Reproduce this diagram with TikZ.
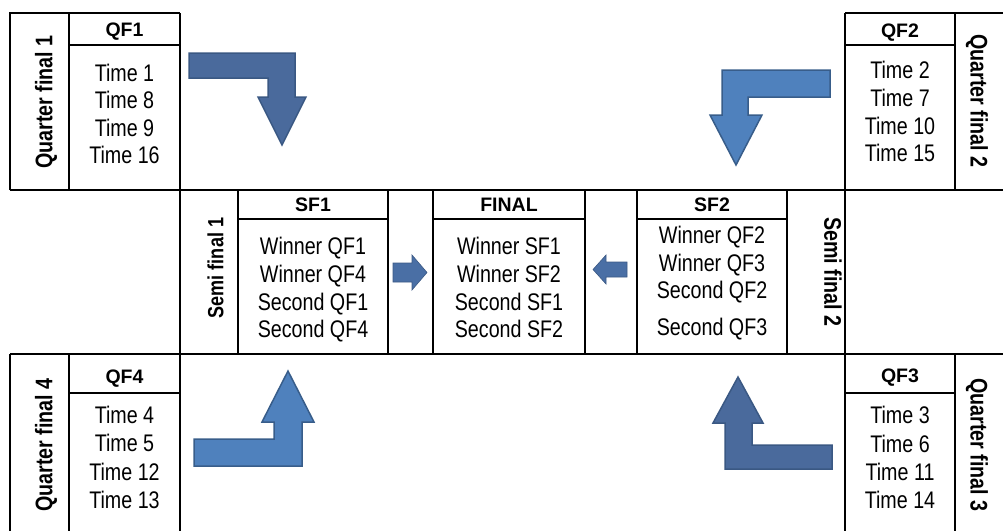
\documentclass[tikz,border=0pt]{standalone}
\usepackage{fontspec}
\setmainfont{Liberation Sans}
\newfontfamily\narrowfont[FakeStretch=0.82]{Liberation Sans}
\definecolor{arrdark}{HTML}{4A6A9C}
\definecolor{arrdarkline}{HTML}{3A5883}
\definecolor{arrlight}{HTML}{4F81BD}
\definecolor{arrlightline}{HTML}{385D8A}
\definecolor{arrsmall}{HTML}{4A6FA5}
\tikzset{
  grid/.style={line width=1.4pt, black},
  txt/.style={font=\narrowfont\fontsize{24}{24}\selectfont, inner sep=0pt, anchor=base},
  hdr/.style={font=\bfseries\fontsize{19.5}{20}\selectfont, inner sep=0pt, anchor=base},
  lbl/.style={font=\narrowfont\bfseries\fontsize{24}{24}\selectfont, inner sep=0pt, anchor=center},
  darkarrow/.style={fill=arrdark, draw=arrdarkline, line width=1.5pt, line join=miter},
  lightarrow/.style={fill=arrlight, draw=arrlightline, line width=1.5pt, line join=miter},
  smallarrow/.style={fill=arrsmall, draw=arrsmall!80!black, line width=0.6pt}
}
\begin{document}
\begin{tikzpicture}[x=1pt, y=-1pt]
\useasboundingbox (0,0) rectangle (1003,531);
% ---------- grid ----------
% QF1
\draw[grid] (10,190) -- (10,13) -- (180,13);
\draw[grid] (69,13) -- (69,190);
\draw[grid] (69,45) -- (180,45);
% QF2
\draw[grid] (845,13) -- (1003,13);
\draw[grid] (955,13) -- (955,190);
\draw[grid] (845,45) -- (955,45);
% full lines
\draw[grid] (180,13) -- (180,531);
\draw[grid] (845,13) -- (845,531);
\draw[grid] (10,190) -- (1003,190);
\draw[grid] (10,354) -- (1003,354);
% middle row
\foreach \xx in {238,388,433,585,637,787} \draw[grid] (\xx,190) -- (\xx,354);
\draw[grid] (238,219) -- (388,219);
\draw[grid] (433,219) -- (585,219);
\draw[grid] (637,219) -- (787,219);
% QF4
\draw[grid] (10,354) -- (10,531);
\draw[grid] (69,354) -- (69,531);
\draw[grid] (69,393) -- (180,393);
% QF3
\draw[grid] (955,354) -- (955,531);
\draw[grid] (845,393) -- (955,393);

% ---------- QF1 ----------
\node[hdr] (qf1) at (124.5,36) {QF1};
\node[txt] (qf1a) at (124.5,81) {Time 1};
\node[txt] (qf1b) at (124.5,108.5) {Time 8};
\node[txt] (qf1c) at (124.5,136) {Time 9};
\node[txt] (qf1d) at (124.5,163.5) {Time 16};
\node[lbl, rotate=90] (lq1) at (46,102) {Quarter final 1};
% ---------- QF2 ----------
\node[hdr] (qf2) at (900,37) {QF2};
\node[txt] (qf2a) at (900,78) {Time 2};
\node[txt] (qf2b) at (900,106) {Time 7};
\node[txt] (qf2c) at (900,134) {Time 10};
\node[txt] (qf2d) at (900,161) {Time 15};
\node[lbl, rotate=-90] (lq2) at (977,101) {Quarter final 2};
% ---------- QF4 ----------
\node[hdr] (qf4) at (124.5,383) {QF4};
\node[txt] (qf4a) at (124.5,423) {Time 4};
\node[txt] (qf4b) at (124.5,451) {Time 5};
\node[txt] (qf4c) at (124.5,480) {Time 12};
\node[txt] (qf4d) at (124.5,508) {Time 13};
\node[lbl, rotate=90] (lq4) at (46,445) {Quarter final 4};
% ---------- QF3 ----------
\node[hdr] (qf3) at (900,382) {QF3};
\node[txt] (qf3a) at (900,423) {Time 3};
\node[txt] (qf3b) at (900,452) {Time 6};
\node[txt] (qf3c) at (900,480) {Time 11};
\node[txt] (qf3d) at (900,508) {Time 14};
\node[lbl, rotate=-90] (lq3) at (977,445) {Quarter final 3};
% ---------- SF1 ----------
\node[hdr] (sf1) at (313,211) {SF1};
\node[txt] (sf1a) at (313,254) {Winner QF1};
\node[txt] (sf1b) at (313,282) {Winner QF4};
\node[txt] (sf1c) at (313,310) {Second QF1};
\node[txt] (sf1d) at (313,337) {Second QF4};
\node[lbl, rotate=90, font=\narrowfont\bfseries\fontsize{22}{22}\selectfont] (ls1) at (215.5,268) {Semi final 1};
% ---------- FINAL ----------
\node[hdr] (fin) at (509,211) {FINAL};
\node[txt] (fina) at (509,254) {Winner SF1};
\node[txt] (finb) at (509,282) {Winner SF2};
\node[txt] (finc) at (509,310) {Second SF1};
\node[txt] (find) at (509,337) {Second SF2};
% ---------- SF2 ----------
\node[hdr] (sf2) at (712,211) {SF2};
\node[txt] (sf2a) at (712,243.5) {Winner QF2};
\node[txt] (sf2b) at (712,271.5) {Winner QF3};
\node[txt] (sf2c) at (712,298.5) {Second QF2};
\node[txt] (sf2d) at (712,335.5) {Second QF3};
\node[lbl, rotate=-90] (ls2) at (833,272) {Semi final 2};

% ---------- block arrows ----------
% QF1 -> SF1
\draw[darkarrow] (189,53) -- (295,53) -- (295,97) -- (306,97) -- (282,145) -- (258,97) -- (268,97) -- (268,78) -- (189,78) -- cycle;
% QF2 -> SF2
\draw[lightarrow] (830,70) -- (722,70) -- (722,115) -- (710,115) -- (736,165) -- (762,115) -- (748,115) -- (748,97) -- (830,97) -- cycle;
% QF4 -> SF1
\draw[lightarrow] (194,466) -- (302,466) -- (302,422) -- (314,422) -- (288,371) -- (262,422) -- (274,422) -- (274,439) -- (194,439) -- cycle;
% QF3 -> SF2
\draw[darkarrow] (832,469) -- (725,469) -- (725,423) -- (713,423) -- (738,377) -- (763,423) -- (752,423) -- (752,445) -- (832,445) -- cycle;
% SF1 -> FINAL
\draw[smallarrow] (393,263) -- (412,263) -- (412,255) -- (427,272.5) -- (412,290) -- (412,282) -- (393,282) -- cycle;
% SF2 -> FINAL
\draw[smallarrow] (627,262) -- (606,262) -- (606,255) -- (593,269.5) -- (606,284) -- (606,277) -- (627,277) -- cycle;
\end{tikzpicture}
\end{document}
